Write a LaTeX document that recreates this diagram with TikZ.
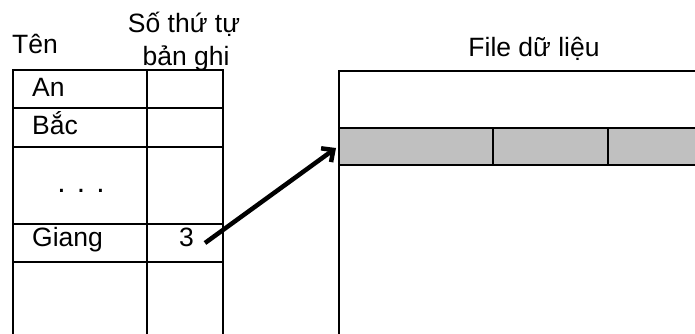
\documentclass[tikz,border=0pt]{standalone}
\usepackage{fontspec}
\setmainfont{Liberation Sans}
\usetikzlibrary{arrows.meta}
\definecolor{rowgray}{RGB}{192,192,192}
\begin{document}
\begin{tikzpicture}[x=1pt,y=-1pt,
  grid/.style={line width=1.6pt},
  lbl/.style={inner sep=0pt,font=\fontsize{26.5}{30}\selectfont},
  ptr/.style={line width=4.5pt,-{Straight Barb[length=9pt,width=17pt,line width=4.5pt]}}]
\useasboundingbox (0,0) rectangle (695,334);
% left table
\draw[grid] (13,334) -- (13,70) -- (223,70) -- (223,334);
\draw[grid] (147,70) -- (147,334);
\foreach \yy in {108,147,224,262} \draw[grid] (13,\yy) -- (223,\yy);
% right file box
\fill[rowgray] (339,128) rectangle (695,165);
\draw[grid] (339,334) -- (339,71) -- (695,71);
\draw[grid] (339,128) -- (695,128);
\draw[grid] (339,165) -- (695,165);
\draw[grid] (493,128) -- (493,165);
\draw[grid] (608,128) -- (608,165);
\coordinate (row) at (336,148);
% texts
\node[lbl,anchor=base west] (ten) at (12,54) {Tên};
\node[lbl,anchor=base] (stt1) at (184,33) {Số thứ tự};
\node[lbl,anchor=base] (stt2) at (186,66) {bản ghi};
\node[lbl,anchor=base] (file) at (534,57) {File dữ liệu};
\node[lbl,anchor=base west] (an) at (32,97) {An};
\node[lbl,anchor=base west] (bac) at (32,134) {Bắc};
\node[lbl,anchor=base,font=\fontsize{30}{30}\selectfont] (dots) at (81,192) {. . .};
\node[lbl,anchor=base west] (giang) at (32,246) {Giang};
\node[lbl,anchor=base east] (three) at (194,246) {3};
\coordinate (start) at ([xshift=11pt,yshift=3pt]three.base east);
\draw[ptr] (start) -- (row);
\end{tikzpicture}
\end{document}
